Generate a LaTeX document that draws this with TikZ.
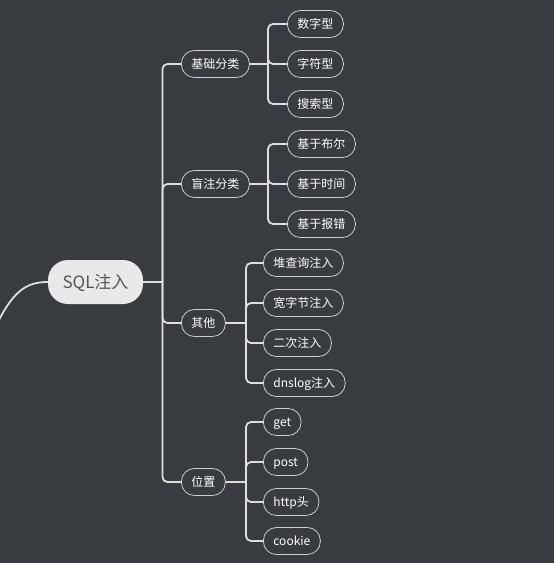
\documentclass[tikz,border=0pt]{standalone}
\usepackage{fontspec}
\setmainfont{Noto Sans CJK SC}
\definecolor{bgc}{RGB}{56,59,64}
\definecolor{linec}{RGB}{222,222,222}
\definecolor{bordc}{RGB}{205,205,205}
\definecolor{rootfill}{RGB}{232,233,235}
\definecolor{roottext}{RGB}{85,85,85}
\tikzset{
  leaf/.style={draw=bordc, line width=0.8pt, rounded corners=13pt, minimum height=27pt, inner xsep=10pt, inner ysep=0pt, text height=10pt, text depth=1pt, text=white, font=\fontsize{12}{14}\selectfont, anchor=west},
  rootbox/.style={fill=rootfill, rounded corners=20pt, minimum height=44pt, minimum width=95pt, text height=14pt, text depth=1.5pt, text=roottext, font=\fontsize{17}{20}\selectfont},
  conn/.style={draw=linec, line width=1.8pt, rounded corners=5pt},
}
\begin{document}
\begin{tikzpicture}[x=1pt,y=-1pt]
\fill[bgc] (0,0) rectangle (554,563);
\useasboundingbox (0,0) rectangle (554,563);
% root
\node[rootbox] (root) at (95.5,282) {SQL注入};
\coordinate (lin) at (-6,330);
\draw[conn] (lin) .. controls (12,292) and (25,282) .. (root.west);
% junction coordinates
\coordinate (tr) at (162.5,282);
\coordinate (b1) at (268,0);
\coordinate (b2) at (268,0);
\coordinate (b3) at (246,0);
\coordinate (b4) at (246,0);
% level 1
\node[leaf] (n1) at (181,64) {基础分类};
\node[leaf] (n2) at (181,184) {盲注分类};
\node[leaf] (n3) at (181,323) {其他};
\node[leaf] (n4) at (181,482) {位置};
% level 2
\node[leaf] (a1) at (287,24) {数字型};
\node[leaf] (a2) at (287,64) {字符型};
\node[leaf] (a3) at (287,104) {搜索型};
\node[leaf] (m1) at (287,144) {基于布尔};
\node[leaf] (m2) at (287,184) {基于时间};
\node[leaf] (m3) at (287,224) {基于报错};
\node[leaf] (o1) at (263,263) {堆查询注入};
\node[leaf] (o2) at (263,303) {宽字节注入};
\node[leaf] (o3) at (263,343) {二次注入};
\node[leaf] (o4) at (263,383) {dnslog注入};
\node[leaf] (p1) at (263,422) {get};
\node[leaf] (p2) at (263,462) {post};
\node[leaf] (p3) at (263,502) {http头};
\node[leaf] (p4) at (263,541) {cookie};
% trunk
\draw[conn] (root.east) -- (tr);
\foreach \n in {n1,n2,n3,n4} \draw[conn] (tr) |- (\n.west);
% branches
\draw[conn] (n1.east) -- (b1 |- n1.east);
\foreach \c in {a1,a2,a3} \draw[conn] (b1 |- n1.east) |- (\c.west);
\draw[conn] (n2.east) -- (b2 |- n2.east);
\foreach \c in {m1,m2,m3} \draw[conn] (b2 |- n2.east) |- (\c.west);
\draw[conn] (n3.east) -- (b3 |- n3.east);
\foreach \c in {o1,o2,o3,o4} \draw[conn] (b3 |- n3.east) |- (\c.west);
\draw[conn] (n4.east) -- (b4 |- n4.east);
\foreach \c in {p1,p2,p3,p4} \draw[conn] (b4 |- n4.east) |- (\c.west);
\end{tikzpicture}
\end{document}
